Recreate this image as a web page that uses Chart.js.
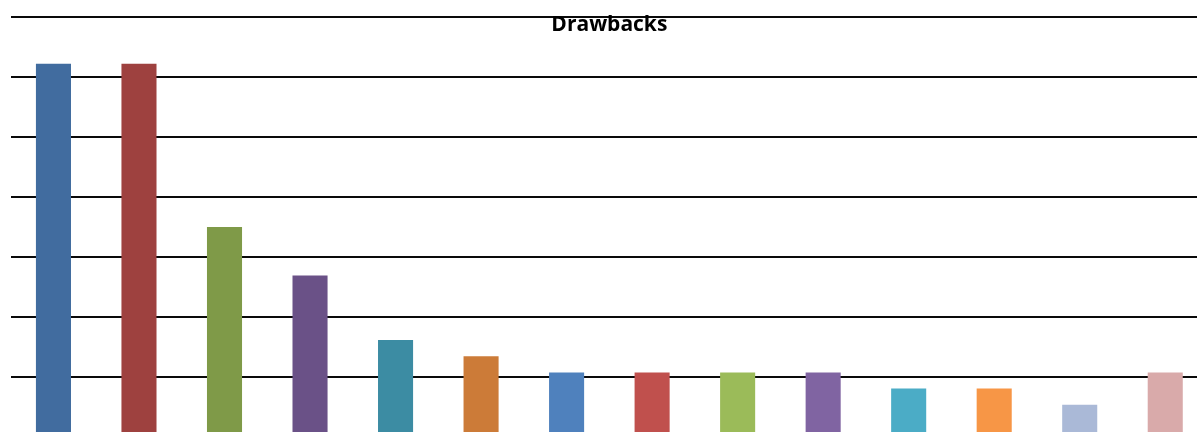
<!DOCTYPE html>
<html>
<head>
<meta charset="utf-8">
<script src="https://cdn.jsdelivr.net/npm/chart.js@4"></script>
<style>
  html, body { margin: 0; padding: 0; background: #fff; overflow: hidden; }
  #wrap { width: 1197px; height: 432px; overflow: hidden; }
</style>
</head>
<body>
<div id="wrap"><canvas id="drawbacksChart" width="1210" height="440"></canvas></div>
<script>
const categories = ["1", "2", "3", "4", "5", "6", "7", "8", "9", "10", "11", "12", "13", "14"];
const counts = [23.1, 23.1, 13, 10, 6, 5, 4, 4, 4, 4, 3, 3, 2, 4];
const barColors = [
  "#416C9F", "#9E413F", "#7F9A48", "#6A5187", "#3C8CA3", "#CC7B38", "#4F81BD",
  "#C0504D", "#9BBB59", "#8064A2", "#4BACC6", "#F79646", "#AAB9D7", "#D9AAAA",
];
const axisMax = 26;
const gridSteps = 7;

// title sits on top of the top gridline, so draw it by hand
const titleOverlay = {
  id: "titleOverlay",
  afterDraw(chart) {
    const { ctx, chartArea } = chart;
    ctx.save();
    ctx.font = "bold 21px 'Open Sans', sans-serif";
    ctx.fillStyle = "#000";
    ctx.textAlign = "center";
    ctx.textBaseline = "middle";
    ctx.fillText("Drawbacks", (chartArea.left + chartArea.right) / 2, 25);
    ctx.restore();
  },
};

new Chart(document.getElementById("drawbacksChart"), {
  type: "bar",
  data: {
    labels: categories,
    datasets: [
      {
        label: "Drawbacks",
        data: counts,
        backgroundColor: barColors,
        borderWidth: 0,
        barPercentage: 0.41,
        categoryPercentage: 1,
      },
    ],
  },
  options: {
    responsive: false,
    animation: false,
    devicePixelRatio: 1,
    layout: { padding: { left: 10.7, right: 2, top: 17, bottom: 3 } },
    plugins: {
      legend: { display: false },
      tooltip: { enabled: false },
    },
    scales: {
      x: { display: false },
      y: {
        min: 0,
        max: axisMax,
        afterBuildTicks: (scale) => {
          const ticks = [];
          for (let k = 0; k <= gridSteps; k++) {
            ticks.push({ value: (k * axisMax) / gridSteps });
          }
          scale.ticks = ticks;
        },
        ticks: { display: false },
        border: { display: false },
        grid: { color: "#0a0a0a", lineWidth: 2, drawTicks: false },
      },
    },
  },
  plugins: [titleOverlay],
});
</script>
</body>
</html>
